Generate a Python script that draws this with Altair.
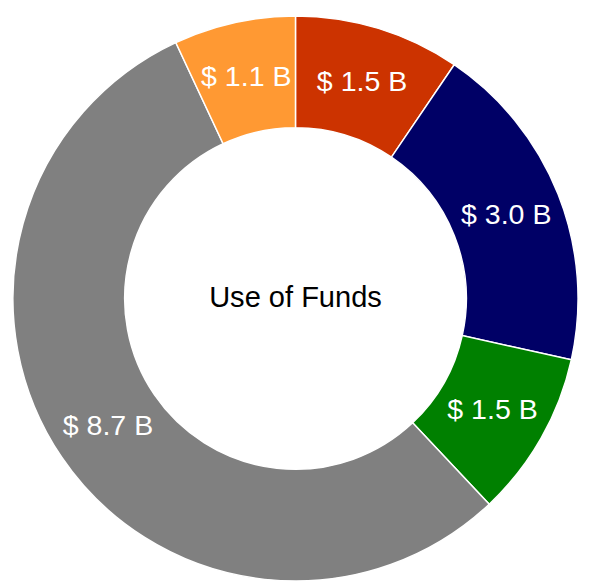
import altair as alt
import pandas as pd

labels = ["$ 1.5 B", "$ 3.0 B", "$ 1.5 B", "$ 8.7 B", "$ 1.1 B"]
values = [1.5, 3.0, 1.5, 8.7, 1.1]
colors = ["#CC3300", "#000066", "#008000", "#808080", "#FF9933"]
keys = ["a", "b", "c", "d", "e"]
center_text = "Use of Funds"

df = pd.DataFrame({"key": keys, "value": values, "label": labels, "idx": list(range(len(keys)))})

cx, cy = 292, 285.5
outer_r, inner_r = 287, 173.5
label_r = (outer_r + inner_r) / 2

base = alt.Chart(df).encode(
    theta=alt.Theta("value:Q", stack=True),
    order=alt.Order("idx:Q"),
    x=alt.value(cx),
    y=alt.value(cy),
)

arcs = base.mark_arc(outerRadius=outer_r, innerRadius=inner_r, stroke="white", strokeWidth=1.5).encode(
    color=alt.Color("key:N", scale=alt.Scale(domain=keys, range=colors), legend=None)
)

text = base.mark_text(radius=label_r, fontSize=29, font="Liberation Sans", color="white").encode(
    text="label:N"
)

center = alt.Chart(pd.DataFrame({"t": [center_text]})).mark_text(
    fontSize=29.5, font="Liberation Sans", color="black"
).encode(text="t:N", x=alt.value(cx), y=alt.value(cy))

chart = (arcs + text + center).properties(width=573, height=562, padding=0).configure_view(stroke=None)

chart.save("out.html", embed_options={"renderer": "svg", "actions": False})
